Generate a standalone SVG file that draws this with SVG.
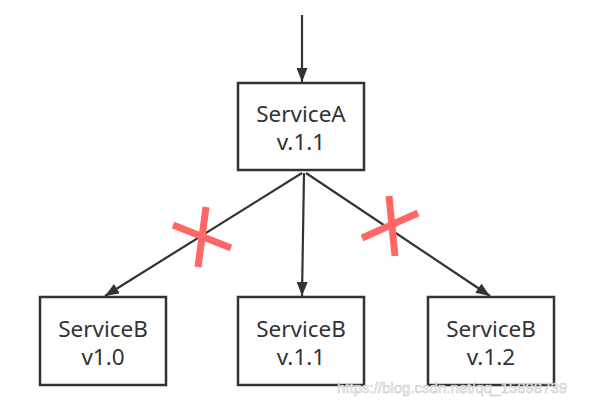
<svg xmlns="http://www.w3.org/2000/svg" width="589" height="407" viewBox="0 0 589 407">
<style>
.box{fill:#fff;stroke:#333;stroke-width:2.5}
.lbl{font-family:"Noto Sans","Open Sans",sans-serif;font-size:22.5px;fill:#333;text-anchor:middle}
.edge{stroke:#333;stroke-width:2.2;fill:none}
.x{stroke:#ff6666;stroke-width:7;stroke-linecap:butt}
.wm{font-family:"Liberation Sans",Arial,sans-serif;font-size:15px;fill:#f2f2f2;stroke:#c8c8c8;stroke-width:0.5}
</style>
<defs>
<marker id="ah" viewBox="0 0 14 11" refX="14" refY="5.5" markerWidth="14" markerHeight="11" markerUnits="userSpaceOnUse" orient="auto">
<path d="M0,0 L14,5.5 L0,11 Z" fill="#333"/>
</marker>
</defs>
<g id="connectors">
<line class="edge" x1="302" y1="15" x2="302" y2="82" marker-end="url(#ah)"/>
<line class="edge" x1="302" y1="173" x2="105" y2="296" marker-end="url(#ah)"/>
<line class="edge" x1="304" y1="173" x2="302" y2="296" marker-end="url(#ah)"/>
<line class="edge" x1="306" y1="173" x2="490" y2="296" marker-end="url(#ah)"/>
</g>
<g id="xmarks">
<line class="x" x1="206" y1="207" x2="198" y2="267"/>
<line class="x" x1="173" y1="225" x2="231" y2="248"/>
<line class="x" x1="389" y1="196" x2="395" y2="256"/>
<line class="x" x1="362" y1="238" x2="418" y2="213"/>
</g>
<g id="serviceA">
<rect class="box" x="238" y="83" width="126" height="87"/>
<text class="lbl" x="301" y="122">ServiceA</text>
<text class="lbl" x="301" y="150">v.1.1</text>
</g>
<g id="serviceB10">
<rect class="box" x="40" y="297" width="126" height="88"/>
<text class="lbl" x="103" y="337">ServiceB</text>
<text class="lbl" x="103" y="365">v1.0</text>
</g>
<g id="serviceB11">
<rect class="box" x="238" y="297" width="126" height="88"/>
<text class="lbl" x="301" y="337">ServiceB</text>
<text class="lbl" x="301" y="365">v.1.1</text>
</g>
<g id="serviceB12">
<rect class="box" x="428" y="297" width="126" height="88"/>
<text class="lbl" x="491" y="337">ServiceB</text>
<text class="lbl" x="491" y="365">v.1.2</text>
</g>
<text class="wm" x="337" y="393">https://blog.csdn.net/qq_15898739</text>
</svg>
